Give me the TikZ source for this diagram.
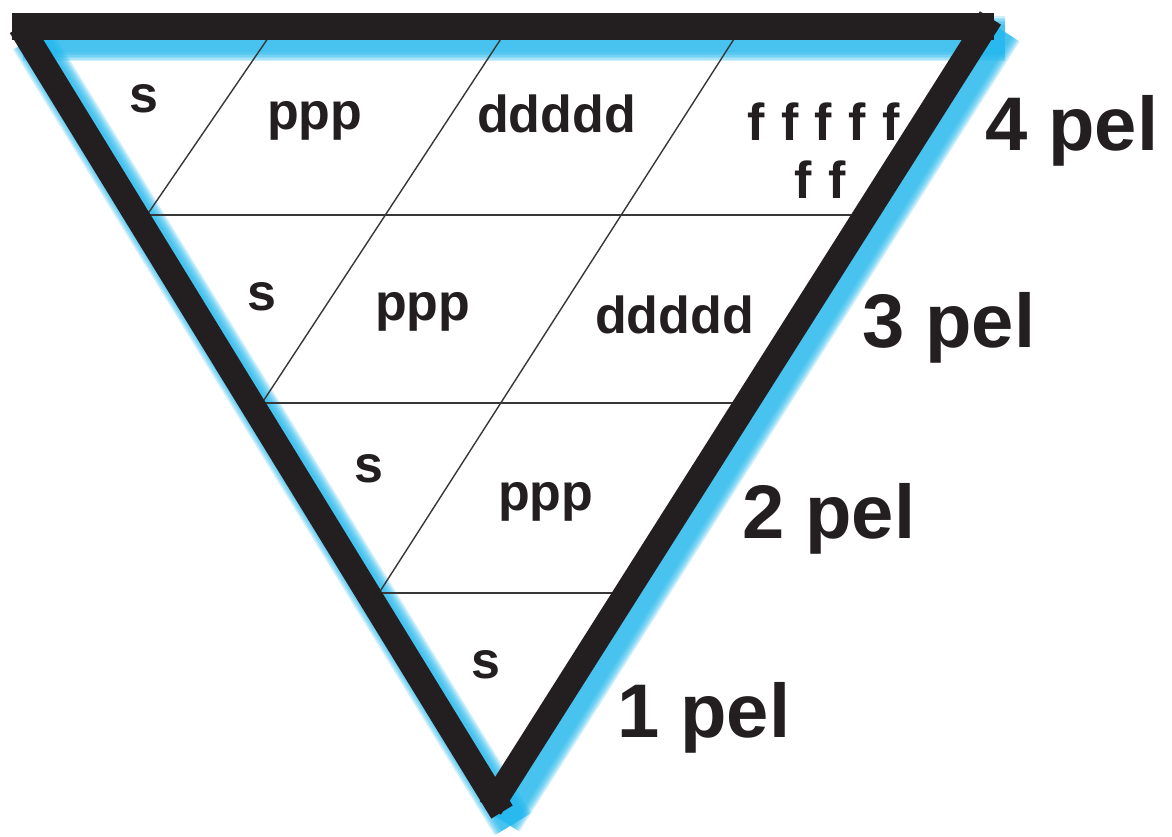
\documentclass[tikz,border=0pt]{standalone}
\usepackage{fontspec}
\setmainfont{Liberation Sans}
\usetikzlibrary{calc}
\definecolor{glow}{RGB}{35,185,238}
\definecolor{ink}{RGB}{35,31,32}
\definecolor{thinline}{RGB}{55,55,55}
\begin{document}
\begin{tikzpicture}[x=1pt,y=-1pt,
  lbl/.style={font=\bfseries\fontsize{52}{52}\selectfont, anchor=base west, inner sep=0pt, text=ink},
  pel/.style={font=\bfseries\fontsize{76}{76}\selectfont, anchor=base west, inner sep=0pt, text=ink},
  gridline/.style={draw=thinline, line width=1.4pt},
  border/.style={draw=ink, line width=25pt, line cap=butt},
  topborder/.style={draw=ink, line width=27pt, line cap=butt},
  glowline/.style={draw=glow, draw opacity=0.22, line cap=butt},
]
\useasboundingbox[fill=white] (0,0) rectangle (1172,836);

% border geometry
\coordinate (tb1) at (12,26.5);
\coordinate (tb2) at (994,26.5);
\coordinate (TL) at (20.5,26.5);
\coordinate (lb) at (502,812);
\coordinate (TR) at (990.4,18);
\coordinate (rb) at (490.3,808);

% glow (shadow) copies of the border, offset right and down
\coordinate (gtb1) at ($(tb1)+(11,12)$);
\coordinate (gtb2) at ($(tb2)+(11,12)$);
\coordinate (gTL) at ($(TL)+(11,12)$);
\coordinate (glb) at ($(lb)+(11,12)$);
\coordinate (gTR) at ($(TR)+(11,12)$);
\coordinate (grb) at ($(rb)+(11,12)$);

% lattice points
\coordinate (h1l) at (147,215);
\coordinate (h1r) at (858,215);
\coordinate (h2l) at (262,403);
\coordinate (h2r) at (738,403);
\coordinate (h3l) at (379,593);
\coordinate (h3r) at (618,593);
\coordinate (d1t) at (276,26.5);
\coordinate (d2t) at (509,26.5);
\coordinate (d3t) at (742,26.5);

% blue glow
\foreach \w in {0,3,6,9,12,15,18}{
  \draw[glowline, line width=27pt+\w pt] (gtb1) -- (gtb2);
  \draw[glowline, line width=25pt+\w pt] (gTL) -- (glb);
  \draw[glowline, line width=25pt+\w pt] (gTR) -- (grb);
}

% thin lattice lines
\draw[gridline] (h1l) -- (h1r);
\draw[gridline] (h2l) -- (h2r);
\draw[gridline] (h3l) -- (h3r);
\draw[gridline] (d1t) -- (h1l);
\draw[gridline] (d2t) -- (h2l);
\draw[gridline] (d3t) -- (h3l);

% thick border
\draw[topborder] (tb1) -- (tb2);
\draw[border] (TL) -- (lb);
\draw[border] (TR) -- (rb);

% row 1
\node[lbl] (s1) at (129,112) {s};
\node[lbl] (p1) at (267,129) {ppp};
\node[lbl] (d1) at (477,132) {ddddd};
\node[lbl] (f1) at (747,140) {\spaceskip=16.5pt f f f f f};
\node[lbl] (f2) at (794,198) {\spaceskip=16.5pt f f};
% row 2
\node[lbl] (s2) at (247,310) {s};
\node[lbl] (p2) at (375,320) {ppp};
\node[lbl] (d2) at (595,333) {ddddd};
% row 3
\node[lbl] (s3) at (354,482) {s};
\node[lbl] (p3) at (498,510) {ppp};
% row 4
\node[lbl] (s4) at (471,678) {s};

% level labels
\node[pel] (pel4) at (985,150) {4 pel};
\node[pel] (pel3) at (862,347) {3 pel};
\node[pel] (pel2) at (742,538) {2 pel};
\node[pel] (pel1) at (617,737) {1 pel};
\end{tikzpicture}
\end{document}
